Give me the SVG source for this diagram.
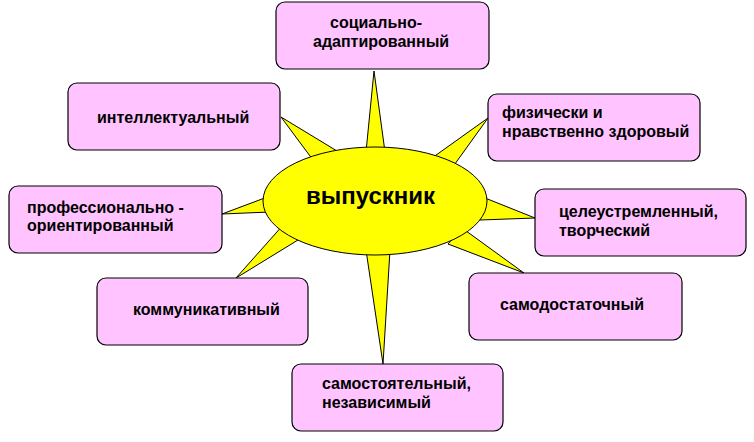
<svg xmlns="http://www.w3.org/2000/svg" width="754" height="442" viewBox="0 0 754 442">
<style>
.box{fill:#FFC4FF;stroke:#000;stroke-width:1.2}
.ray{fill:#FFFF00;stroke:#000;stroke-width:1;stroke-linejoin:miter}
.t{font-family:"Liberation Sans",Arial,sans-serif;font-weight:bold;font-size:16px;fill:#000}
.c{font-family:"Liberation Sans",Arial,sans-serif;font-weight:bold;font-size:24px;fill:#000}
</style>
<rect width="754" height="442" fill="#fff"/>
<g id="connectors">
<polygon class="ray" points="366,152 374,71 385,152"/>
<polygon class="ray" points="432,158 488,118 452,168"/>
<polygon class="ray" points="480,196 535,218 480,220"/>
<polygon class="ray" points="462,228 524,273 448,244"/>
<polygon class="ray" points="366,250 383,364 390,250"/>
<polygon class="ray" points="284,224 236,278 298,240"/>
<polygon class="ray" points="270,196 222,214 270,212"/>
<polygon class="ray" points="313,160 281,117 337,151"/>
</g>
<g id="center">
<ellipse cx="375" cy="201" rx="112" ry="54" fill="#FFFF00" stroke="#000" stroke-width="1"/>
<text class="c" x="306" y="204">выпускник</text>
</g>
<g id="n1">
<rect class="box" x="276" y="2" width="213" height="67" rx="9"/>
<text class="t" x="330" y="28">социально-</text>
<text class="t" x="313" y="47">адаптированный</text>
</g>
<g id="n2">
<rect class="box" x="68" y="83" width="212" height="67" rx="9"/>
<text class="t" x="97" y="123">интеллектуальный</text>
</g>
<g id="n3">
<rect class="box" x="9" y="186" width="213" height="67" rx="9"/>
<text class="t" x="27" y="213">профессионально -</text>
<text class="t" x="27" y="231">ориентированный</text>
</g>
<g id="n4">
<rect class="box" x="488" y="94" width="212" height="67" rx="9"/>
<text class="t" x="502" y="118">физически и</text>
<text class="t" x="502" y="137">нравственно здоровый</text>
</g>
<g id="n5">
<rect class="box" x="535" y="189" width="211" height="67" rx="9"/>
<text class="t" x="559" y="217">целеустремленный,</text>
<text class="t" x="559" y="236">творческий</text>
</g>
<g id="n6">
<rect class="box" x="97" y="278" width="211" height="67" rx="9"/>
<text class="t" x="133" y="315">коммуникативный</text>
</g>
<g id="n7">
<rect class="box" x="292" y="364" width="211" height="67" rx="9"/>
<text class="t" x="322" y="389">самостоятельный,</text>
<text class="t" x="322" y="408">независимый</text>
</g>
<g id="n8">
<rect class="box" x="469" y="273" width="213" height="67" rx="9"/>
<text class="t" x="500" y="310">самодостаточный</text>
</g>
</svg>
